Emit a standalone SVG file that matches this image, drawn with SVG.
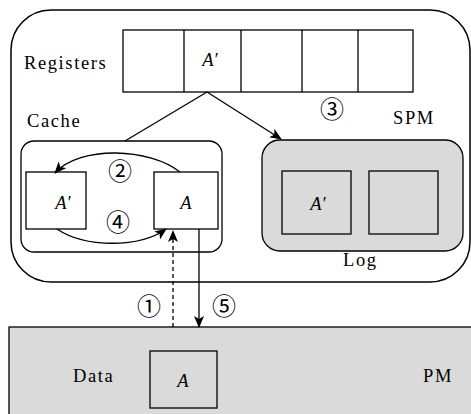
<svg xmlns="http://www.w3.org/2000/svg" width="471" height="414" viewBox="0 0 471 414">
  <style>
    .box { fill: #ffffff; stroke: #000000; stroke-width: 1.3; }
    .gbox { fill: #d9dad9; stroke: #000000; stroke-width: 1.3; }
    .frame { fill: #ffffff; stroke: #000000; stroke-width: 1.5; }
    .lbl { font-family: "Liberation Serif", "Times New Roman", serif; font-size: 18.5px; letter-spacing: 1.6px; fill: #000000; }
    .var { font-family: "Liberation Serif", "Times New Roman", serif; font-size: 18.5px; font-style: italic; fill: #000000; text-anchor: middle; }
    .num { font-family: "Noto Sans CJK SC", "Noto Sans CJK JP", sans-serif; font-size: 24px; fill: #000000; text-anchor: middle; }
    .wire { fill: none; stroke: #000000; stroke-width: 1.3; }
    .dash { fill: none; stroke: #000000; stroke-width: 1.3; stroke-dasharray: 4 3; }
  </style>
  <defs>
    <marker id="head" viewBox="0 0 12 10" refX="11" refY="5" markerWidth="12" markerHeight="10" markerUnits="userSpaceOnUse" orient="auto">
      <path d="M0,0 L12,5 L0,10 L3,5 Z" fill="#000000"/>
    </marker>
  </defs>

  <!-- on-chip frame -->
  <g id="chip">
    <rect class="frame" x="11" y="10" width="459" height="272" rx="40" ry="40"/>
  </g>

  <!-- register file -->
  <g id="registers">
    <rect class="box" x="123" y="30" width="290" height="62"/>
    <line class="wire" x1="184" y1="30" x2="184" y2="92"/>
    <line class="wire" x1="241" y1="30" x2="241" y2="92"/>
    <line class="wire" x1="302" y1="30" x2="302" y2="92"/>
    <line class="wire" x1="358" y1="30" x2="358" y2="92"/>
    <text class="lbl" x="24" y="69">Registers</text>
    <text class="var" x="210" y="66">A′</text>
  </g>

  <!-- cache -->
  <g id="cache">
    <text class="lbl" x="27" y="127">Cache</text>
    <rect class="box" x="21" y="141" width="201" height="111" rx="13" ry="13"/>
    <rect class="box" x="26" y="172" width="60" height="57"/>
    <text class="var" x="63" y="209">A′</text>
    <rect class="box" x="154" y="172" width="64" height="57"/>
    <text class="var" x="186" y="209">A</text>
  </g>

  <!-- scratchpad memory with log -->
  <g id="spm">
    <text class="lbl" x="393" y="124">SPM</text>
    <rect class="gbox" x="262" y="140" width="201" height="111" rx="18" ry="18"/>
    <rect class="gbox" x="282" y="171" width="69" height="63"/>
    <text class="var" x="318" y="210">A′</text>
    <rect class="gbox" x="369" y="171" width="69" height="63"/>
    <text class="lbl" x="343" y="266">Log</text>
  </g>

  <!-- persistent memory -->
  <g id="pm">
    <rect class="gbox" x="9" y="327" width="470" height="100"/>
    <text class="lbl" x="73" y="382">Data</text>
    <rect class="gbox" x="150" y="351" width="67" height="57"/>
    <text class="var" x="183" y="387">A</text>
    <text class="lbl" x="423" y="382">PM</text>
  </g>

  <!-- data movement -->
  <g id="connectors">
    <line class="wire" x1="207" y1="92" x2="125" y2="141"/>
    <line class="wire" x1="207" y1="92" x2="281" y2="139" marker-end="url(#head)"/>
    <path class="wire" d="M180,172 C150,148 80,145 55,173" marker-end="url(#head)"/>
    <path class="wire" d="M57,229 C85,248 140,248 166,229" marker-end="url(#head)"/>
    <line class="dash" x1="173" y1="327" x2="173" y2="231" marker-end="url(#head)"/>
    <line class="wire" x1="199" y1="229" x2="199" y2="327" marker-end="url(#head)"/>
  </g>

  <!-- step numbers -->
  <g id="steps">
    <text class="num" x="149" y="315">①</text>
    <text class="num" x="120" y="180">②</text>
    <text class="num" x="332" y="118">③</text>
    <text class="num" x="118" y="231">④</text>
    <text class="num" x="224" y="315">⑤</text>
  </g>
</svg>
